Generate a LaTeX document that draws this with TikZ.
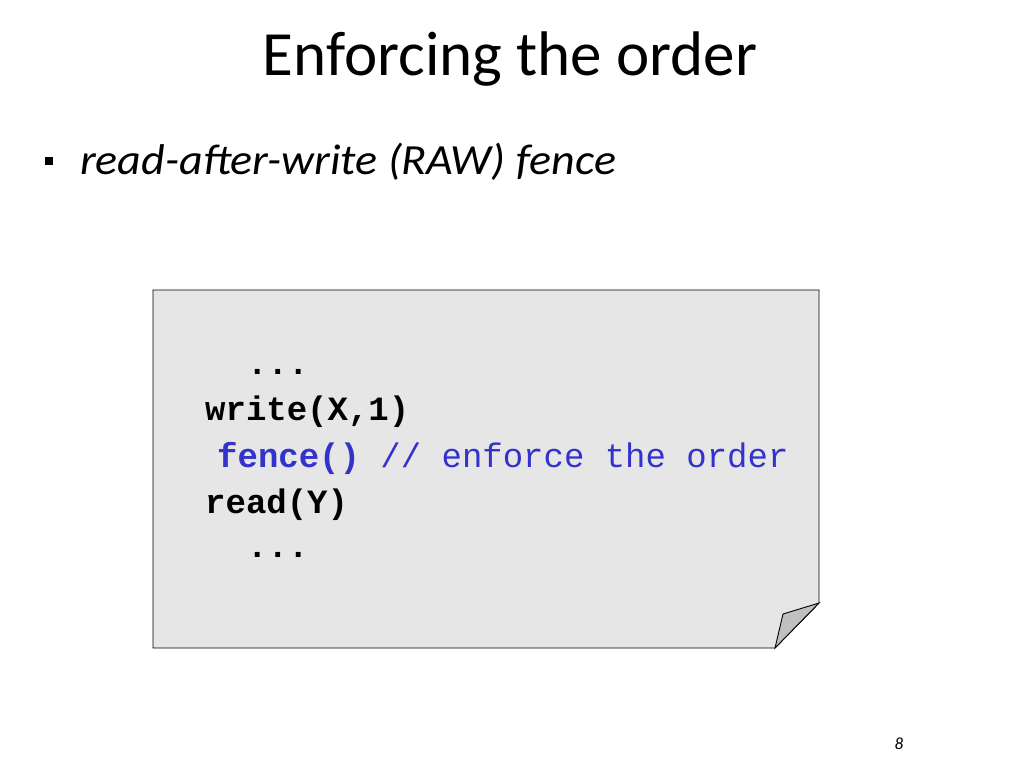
\documentclass[tikz,border=0pt]{standalone}
\usepackage{fontspec}
\setmainfont{Carlito}
\newfontfamily\codefont{Liberation Mono}
\definecolor{boxgray}{RGB}{230,230,230}
\definecolor{foldgray}{RGB}{192,192,192}
\definecolor{codeblue}{RGB}{51,51,204}
\begin{document}
\begin{tikzpicture}[x=1pt,y=-1pt,
  code/.style={anchor=base west,inner sep=0pt,font=\codefont\fontsize{34}{34}\selectfont},
  txt/.style={inner sep=0pt}]
\useasboundingbox[fill=white] (0,0) rectangle (1024,768);
% title
\node[txt,anchor=base] (title) at (510,75) {\fontsize{63}{63}\selectfont Enforcing the order};
% bullet
\fill (45,157) rectangle (53,165);
\node[txt,anchor=base west] (bullet) at (80,174) {\itshape\addfontfeatures{FakeStretch=1.07}\fontsize{43}{43}\selectfont read-after-write (RAW) fence};
% note box
\path[draw=black,fill=boxgray,line width=0.9] (153,290) coordinate (tl) -- (819,290) coordinate (tr) -- (819,603) coordinate (fa) -- (775,648) coordinate (fb) -- (153,648) coordinate (bl) -- cycle;
\path[draw=black,fill=foldgray,line width=0.9] (fa) -- (fb) -- (783,614) coordinate (fc) -- cycle;
% code
\node[code] (d1) at (247,374) {\bfseries ...};
\node[code] (w) at (205,420) {\bfseries write(X,1)};
\node[code] (f) at (217,467) {\textcolor{codeblue}{\bfseries fence()} \textcolor{codeblue}{// enforce the order}};
\node[code] (r) at (205,513) {\bfseries read(Y)};
\node[code] (d2) at (247,557) {\bfseries ...};
% page number
\node[txt,anchor=base] (pg) at (899,749) {\fontsize{17}{17}\selectfont\itshape 8};
\end{tikzpicture}
\end{document}
